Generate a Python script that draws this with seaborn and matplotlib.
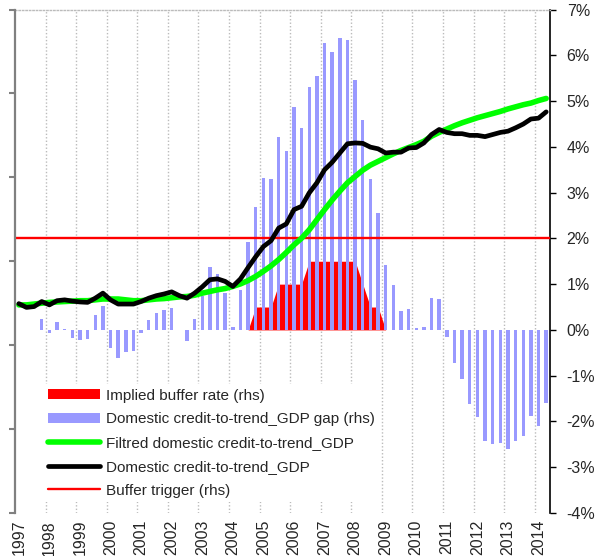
import matplotlib.pyplot as plt
import matplotlib.ticker as mticker
import numpy as np
import pandas as pd
import seaborn as sns
from matplotlib.lines import Line2D
from matplotlib.patches import Patch

# Dados trimestrais 1997Q1 - 2014Q2
YEARS = [str(y) for y in range(1997, 2015)]
QUARTERS = [f"{y}Q{q}" for y in YEARS for q in range(1, 5)][:70]

# gap (rhs, %)
GAP = [0.0, 0.0, 0.0, 0.24, -0.07, 0.175, 0.03, -0.17, -0.22, -0.2,
       0.33, 0.53, -0.40, -0.61, -0.48, -0.46, -0.07, 0.22, 0.36, 0.44,
       0.47, -0.01, -0.24, 0.23, 0.74, 1.37, 1.23, 0.80, 0.07, 0.88,
       1.92, 2.68, 3.31, 3.29, 4.22, 3.90, 4.88, 4.42, 5.30, 5.55,
       6.26, 6.07, 6.38, 6.33, 5.46, 4.58, 3.30, 2.56, 1.41, 0.98,
       0.41, 0.45, 0.04, 0.06, 0.70, 0.67, -0.15, -0.72, -1.07, -1.62,
       -1.90, -2.42, -2.50, -2.46, -2.60, -2.42, -2.31, -1.87, -2.09, -1.59]

# implied buffer rate (rhs, %)
BUFFER = [0.0] * 31 + [0.5, 0.5, 0.5, 1.0, 1.0, 1.0, 1.0,
                       1.5, 1.5, 1.5, 1.5, 1.5, 1.5, 1.5,
                       1.0, 0.5, 0.5, 0.0] + [0.0] * 21

# credit-to-trend GDP (lhs, sem escala)
CREDIT = [49.9, 49.0, 49.2, 50.4, 49.6, 50.6, 50.8, 50.5, 50.3, 50.2,
          51.2, 52.4, 50.8, 49.8, 49.8, 49.8, 50.4, 51.2, 51.8, 52.2,
          52.7, 51.8, 51.2, 52.4, 53.9, 55.6, 55.8, 55.2, 54.0, 55.8,
          58.5, 61.1, 63.5, 64.9, 67.9, 68.9, 72.3, 73.1, 76.3, 78.7,
          81.8, 83.6, 85.8, 88.0, 88.2, 88.1, 87.2, 86.8, 85.8, 86.0,
          86.0, 87.0, 87.1, 88.2, 90.2, 91.4, 90.7, 90.4, 90.4, 90.0,
          90.0, 89.7, 90.2, 90.7, 91.0, 91.8, 92.7, 93.9, 94.1, 95.6]

FILTERED = [49.6, 49.6, 49.8, 50.0, 50.2, 50.3, 50.4, 50.5, 50.6, 50.6,
            50.8, 51.0, 51.0, 51.0, 50.8, 50.6, 50.6, 50.8, 51.0, 51.1,
            51.3, 51.5, 51.6, 51.9, 52.4, 52.8, 53.2, 53.5, 54.0, 54.6,
            55.4, 56.4, 57.6, 58.9, 60.4, 62.1, 63.9, 65.5, 67.5, 69.9,
            72.3, 74.6, 76.7, 78.7, 80.2, 81.7, 82.9, 83.8, 84.7, 85.6,
            86.4, 87.1, 87.8, 88.6, 89.8, 90.7, 91.5, 92.3, 93.0, 93.6,
            94.2, 94.7, 95.2, 95.7, 96.3, 96.8, 97.3, 97.7, 98.3, 98.8]

TRIGGER = 2.0

AZUL = "#9999FF"
VERMELHO = "#FF0000"
VERDE = "#00FF00"

sns.set_style("white")
plt.rcParams["font.family"] = ["Liberation Sans", "DejaVu Sans"]

df = pd.DataFrame({
    "trimestre": QUARTERS,
    "gap": GAP,
    "buffer": BUFFER,
    "credito": CREDIT,
    "filtrado": FILTERED,
})
df["pos"] = np.arange(len(df))

fig = plt.figure(figsize=(6.01, 5.56), dpi=100)
ax = fig.add_axes([15 / 601, 1 - 513 / 556, 535 / 601, 503.5 / 556])

# barras do gap (rhs)
sns.barplot(data=df, x="trimestre", y="gap", color=AZUL, saturation=1,
            width=0.45, linewidth=0, ax=ax, zorder=2)
ax.fill_between(df["pos"], df["buffer"], 0, color=VERMELHO, lw=0, zorder=1)
ax.axhline(TRIGGER, color=VERMELHO, lw=1.7, zorder=3)

# grade vertical pontilhada nas viradas de ano
for k in range(1, len(YEARS)):
    ax.axvline(4 * k - 0.5, color="#BBBBBB", lw=1, ls=(0, (1, 1.5)), zorder=0)

# linhas (lhs, sem rótulos) -- twinx antes de ajustar os ticks do eixo da direita
axl = ax.twinx()
sns.lineplot(data=df, x="pos", y="filtrado", color=VERDE, lw=4, ax=axl, legend=False)
sns.lineplot(data=df, x="pos", y="credito", color="black", lw=3.4, ax=axl, legend=False)
axl.set_ylim(0, 120)
axl.set_yticks(range(0, 121, 20))
axl.set_xlabel("")
axl.set_ylabel("")
axl.yaxis.tick_left()
axl.tick_params(axis="y", left=True, right=False, labelleft=False, labelright=False,
                direction="out", length=4, width=1.5, color="#808080")
for lado in ["right", "top", "bottom"]:
    axl.spines[lado].set_visible(False)
axl.spines["left"].set_visible(True)
axl.spines["left"].set_color("#808080")
axl.spines["left"].set_linewidth(1.6)

ax.set_xlim(-0.5, len(df) - 0.5)
ax.set_ylim(-4, 7)
ax.set_xlabel("")
ax.set_ylabel("")
ax.yaxis.tick_right()
ax.set_yticks(range(-4, 8))
ax.yaxis.set_major_formatter(mticker.FuncFormatter(lambda v, _: f"{int(round(v))}%"))
ax.set_xticks(range(0, len(df), 4))
ax.set_xticklabels(YEARS, rotation=90, fontsize=11.5)
ax.tick_params(axis="x", length=0, pad=5)
ax.tick_params(axis="y", left=False, right=True, labelleft=False, labelright=True,
               direction="out", length=4, width=1, color="black",
               labelsize=11.5, pad=8)
ax.spines["left"].set_visible(False)
ax.spines["bottom"].set_visible(False)
ax.spines["right"].set_visible(True)
ax.spines["right"].set_color("black")
ax.spines["right"].set_linewidth(1.2)
ax.spines["top"].set_color("#BBBBBB")
ax.spines["top"].set_linestyle((0, (1, 1.5)))
ax.spines["top"].set_linewidth(1)

handles = [
    Patch(facecolor=VERMELHO, edgecolor="none"),
    Patch(facecolor=AZUL, edgecolor="none"),
    Line2D([], [], color=VERDE, lw=4),
    Line2D([], [], color="black", lw=3.4),
    Line2D([], [], color=VERMELHO, lw=1.7),
]
labels = [
    "Implied buffer rate (rhs)",
    "Domestic credit-to-trend_GDP gap (rhs)",
    "Filtred domestic credit-to-trend_GDP",
    "Domestic credit-to-trend_GDP",
    "Buffer trigger (rhs)",
]
leg = axl.legend(handles, labels, loc="upper left",
                 bbox_to_anchor=(43 / 601, 1 - 384 / 556), bbox_transform=fig.transFigure,
                 frameon=True, fancybox=False, facecolor="white", edgecolor="none",
                 framealpha=1, fontsize=11, handlelength=3.4, handleheight=0.65,
                 labelspacing=0.64, handletextpad=0.45, borderpad=0.3, borderaxespad=0)

plt.savefig("out.png", dpi=100)
plt.close()
